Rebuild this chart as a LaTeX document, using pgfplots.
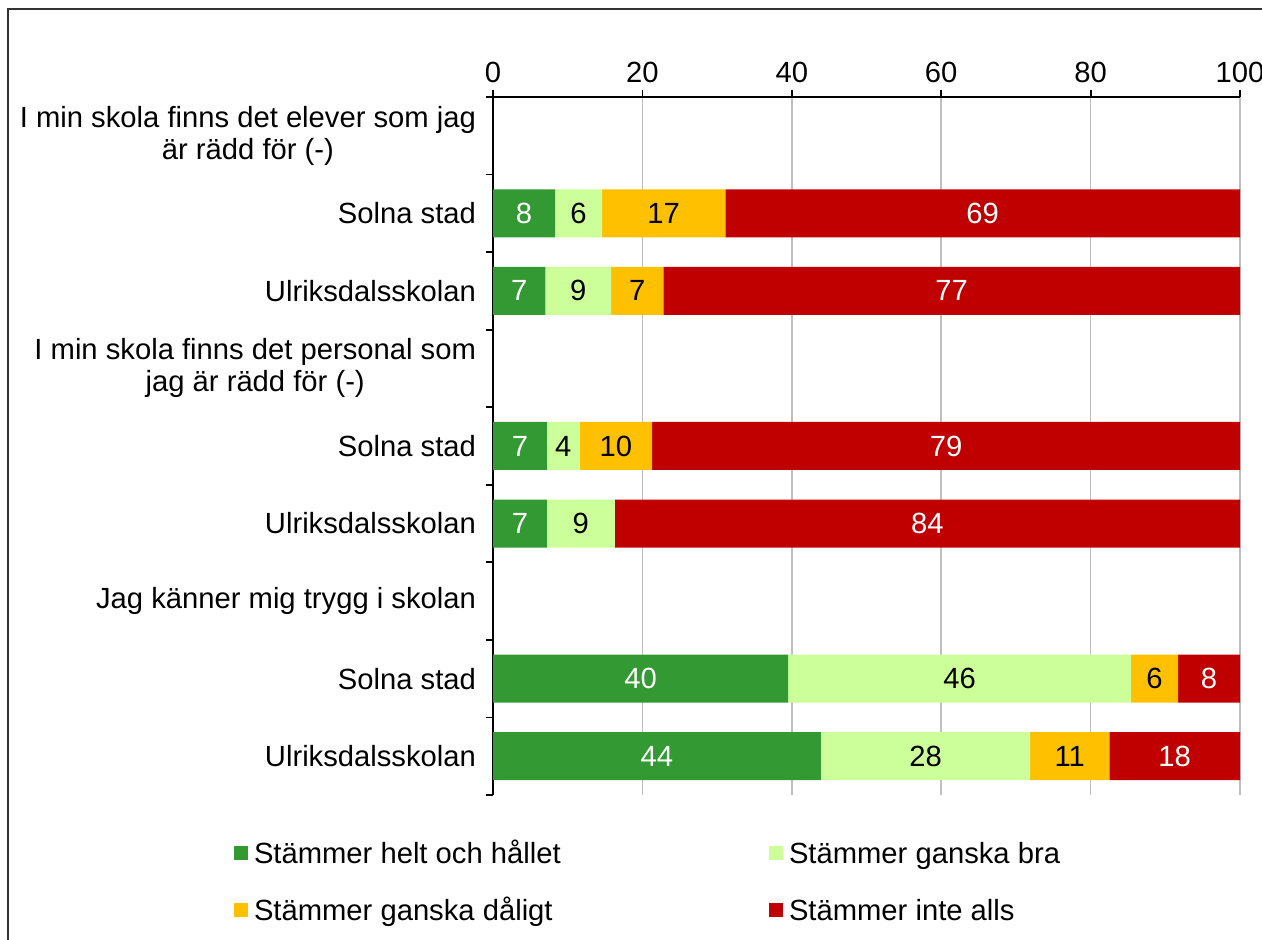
\documentclass[border=0pt]{standalone}
\usepackage{fontspec}
\setmainfont{Liberation Sans}
\usepackage{pgfplots}
\usepackage{pgfplotstable}
\pgfplotsset{compat=1.18}
\definecolor{cA}{HTML}{339933}
\definecolor{cB}{HTML}{CCFF99}
\definecolor{cC}{HTML}{FFC000}
\definecolor{cD}{HTML}{C00000}

\pgfplotstableread{
y v lab
7 8.3 8
6 7.0 7
4 7.2 7
3 7.2 7
1 39.5 40
0 43.9 44
}\tA
\pgfplotstableread{
y v lab
7 6.3 6
6 8.8 9
4 4.4 4
3 9.1 9
1 45.9 46
0 28.0 28
}\tB
\pgfplotstableread{
y v lab
7 16.5 17
6 7.0 7
4 9.7 10
3 0 {}
1 6.3 6
0 10.6 11
}\tC
\pgfplotstableread{
y v lab
7 68.9 69
6 77.2 77
4 78.7 79
3 83.7 84
1 8.3 8
0 17.5 18
}\tD

\begin{document}
\begin{tikzpicture}[font=\fontsize{14.6}{16}\selectfont]
\useasboundingbox (0,0) rectangle (631pt,470pt);
\draw[line width=1pt, black!80] (4pt,-5pt) -- (4pt,465.5pt) -- (640pt,465.5pt);
\begin{axis}[
  at={(246.5pt,72.5pt)}, anchor=south west,
  width=373.5pt, height=349pt, scale only axis,
  xmin=0, xmax=100, ymin=-0.5, ymax=8.5,
  axis x line*=top, axis y line*=left,
  xtick={0,20,...,100},
  xmajorgrids, grid style={line width=0.75pt, color=black!25},
  ytick={0,...,8},
  yticklabels={Ulriksdalsskolan, Solna stad, Jag känner mig trygg i skolan,
    Ulriksdalsskolan, Solna stad, {I min skola finns det personal som\\jag är rädd för (-)},
    Ulriksdalsskolan, Solna stad, {I min skola finns det elever som jag\\är rädd för (-)}},
  yticklabel style={align=center, xshift=-1.5pt},
  minor ytick={-0.5,0.5,...,8.5},
  tick align=outside,
  major tick length=3.5pt, minor tick length=3.5pt,
  major y tick style={draw=none},
  axis line style={line width=0.9pt, black},
  tick style={line width=0.9pt, black},
  /pgf/number format/assume math mode=true,
  xbar stacked, bar width=24pt,
  point meta=explicit symbolic,
  nodes near coords={\makebox[0pt]{\pgfplotspointmeta}},
  every node near coord/.append style={inner xsep=0pt},
  legend columns=2,
  legend image code/.code={\fill[#1, draw=none] (0pt,1.7pt) rectangle (7pt,8.7pt);},
  legend style={draw=none, fill=none, inner sep=0pt, outer sep=0pt,
    column sep=3pt, row sep=15pt,
    nodes={inner sep=0pt},
    cells={anchor=base west},
    /tikz/every even column/.append style={column sep=0pt},
    at={(axis description cs:-0.3467,-0.0648)}, anchor=north west},
]
\addplot[fill=cA, draw=none, every node near coord/.append style={text=white}] table[x=v, y=y, meta=lab] {\tA};
\addlegendentry{\makebox[257.5pt][l]{Stämmer helt och hållet}}
\addplot[fill=cB, draw=none, every node near coord/.append style={text=black}] table[x=v, y=y, meta=lab] {\tB};
\addlegendentry{Stämmer ganska bra}
\addplot[fill=cC, draw=none, every node near coord/.append style={text=black}] table[x=v, y=y, meta=lab] {\tC};
\addlegendentry{\makebox[257.5pt][l]{Stämmer ganska dåligt}}
\addplot[fill=cD, draw=none, every node near coord/.append style={text=white}] table[x=v, y=y, meta=lab] {\tD};
\addlegendentry{Stämmer inte alls}
\end{axis}
\end{tikzpicture}
\end{document}
